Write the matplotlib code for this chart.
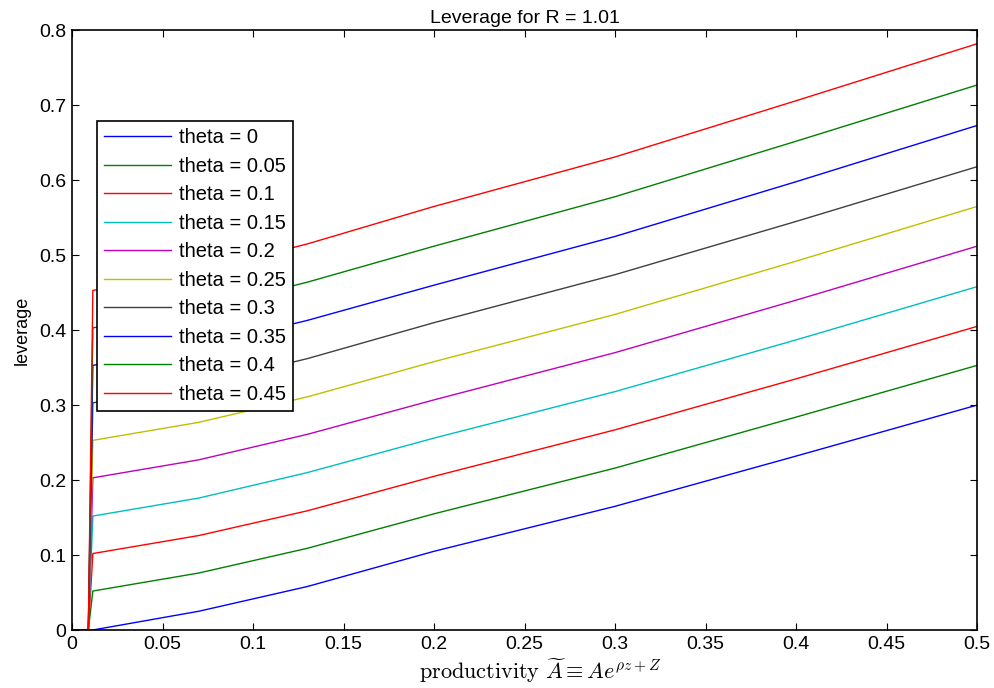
import numpy as np
import matplotlib
matplotlib.use('Agg')
import matplotlib.pyplot as plt

plt.rcParams['font.family'] = ['Liberation Sans', 'DejaVu Sans']
plt.rcParams['mathtext.fontset'] = 'cm'

# productivity grid
x = [0.0, 0.009, 0.0115, 0.07, 0.13, 0.2, 0.3, 0.4, 0.5]

thetas = [0, 0.05, 0.1, 0.15, 0.2, 0.25, 0.3, 0.35, 0.4, 0.45]

lev_00 = [0, 0, 0.000, 0.025, 0.058, 0.105, 0.165, 0.232, 0.300]
lev_05 = [0, 0, 0.052, 0.076, 0.109, 0.155, 0.216, 0.284, 0.353]
lev_10 = [0, 0, 0.102, 0.126, 0.159, 0.205, 0.267, 0.335, 0.405]
lev_15 = [0, 0, 0.152, 0.176, 0.210, 0.256, 0.318, 0.387, 0.458]
lev_20 = [0, 0, 0.203, 0.227, 0.261, 0.307, 0.370, 0.440, 0.512]
lev_25 = [0, 0, 0.253, 0.277, 0.311, 0.358, 0.421, 0.492, 0.565]
lev_30 = [0, 0, 0.303, 0.327, 0.362, 0.410, 0.474, 0.545, 0.618]
lev_35 = [0, 0, 0.353, 0.378, 0.413, 0.460, 0.525, 0.598, 0.673]
lev_40 = [0, 0, 0.403, 0.428, 0.464, 0.512, 0.578, 0.652, 0.727]
lev_45 = [0, 0, 0.453, 0.478, 0.515, 0.565, 0.631, 0.706, 0.782]

series = [lev_00, lev_05, lev_10, lev_15, lev_20, lev_25, lev_30, lev_35, lev_40, lev_45]

# old matlab color order
colors = ['#0000ff', '#008000', '#ff0000', '#00bfbf', '#bf00bf', '#bfbf00', '#404040']

fig = plt.figure(figsize=(9.95, 6.88), dpi=100)
ax = fig.add_axes([0.0724, 0.0843, 0.9096, 0.8717])

for i, (th, y) in enumerate(zip(thetas, series)):
    ax.plot(x, y, color=colors[i % len(colors)], lw=1, label='theta = %g' % th)

ax.set_xlim(0, 0.5)
ax.set_ylim(0, 0.8)
ax.set_xticks(np.arange(0, 0.51, 0.05))
ax.set_xticklabels(['0', '0.05', '0.1', '0.15', '0.2', '0.25', '0.3', '0.35', '0.4', '0.45', '0.5'])
ax.set_yticks(np.arange(0, 0.81, 0.1))
ax.set_yticklabels(['0', '0.1', '0.2', '0.3', '0.4', '0.5', '0.6', '0.7', '0.8'])
ax.tick_params(direction='in', length=5, top=True, right=True, labelsize=14, pad=4)
for s in ax.spines.values():
    s.set_linewidth(1.2)

ax.set_title('Leverage for R = 1.01', fontsize=14, pad=5)
ax.set_ylabel('leverage', fontsize=13, labelpad=6)
ax.set_xlabel(r'$\mathrm{productivity}\ \widetilde{A} \equiv Ae^{\rho z+Z}$', fontsize=16)
ax.xaxis.set_label_coords(0.517, -0.043)

leg = ax.legend(loc='upper left', bbox_to_anchor=(0.0276, 0.848), borderaxespad=0,
                fontsize=14.5, labelspacing=0.47, handlelength=3.3, handletextpad=0.4,
                fancybox=False, framealpha=1, borderpad=0.35)
leg.get_frame().set_edgecolor('black')
leg.get_frame().set_linewidth(1.2)

plt.savefig('out.png', dpi=100)
